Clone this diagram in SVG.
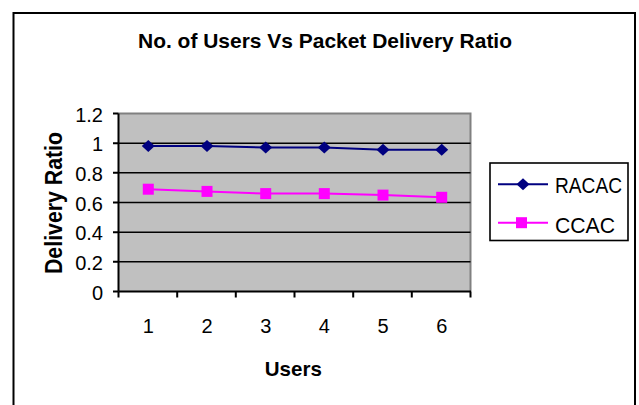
<svg xmlns="http://www.w3.org/2000/svg" width="639" height="405" viewBox="0 0 639 405">
<defs>
<style>
.t{font-family:"Liberation Sans",Arial,sans-serif;fill:#000}
.b{font-weight:bold}
.grid{stroke:#000;stroke-width:1.6;fill:none}
.ax{stroke:#000;stroke-width:2;fill:none}
.s1{stroke:#000080;stroke-width:2;fill:none}
.s2{stroke:#FF00FF;stroke-width:2;fill:none}
</style>
<path id="dia" d="M0,-6 L6.5,0 L0,6 L-6.5,0 Z" fill="#000080"/>
<rect id="sq" x="-5.5" y="-5.5" width="11" height="11" fill="#FF00FF"/>
</defs>
<rect x="0" y="0" width="639" height="405" fill="#fff"/>
<g id="frame">
<rect x="13.5" y="13" width="621.5" height="400" fill="#fff" stroke="#000" stroke-width="2"/>
</g>
<g id="title">
<text class="t b" x="325" y="48" font-size="21" text-anchor="middle" textLength="374" lengthAdjust="spacingAndGlyphs">No. of Users Vs Packet Delivery Ratio</text>
</g>
<g id="plot">
<rect x="118.5" y="113.5" width="352" height="178" fill="#C0C0C0"/>
<path d="M118.5,113.5 H470.5 V291.5" stroke="#808080" stroke-width="2" fill="none"/>
<path class="grid" d="M118.5,143.2 H470.5 M118.5,172.8 H470.5 M118.5,202.5 H470.5 M118.5,232.2 H470.5 M118.5,261.8 H470.5"/>
</g>
<g id="axes">
<path class="ax" d="M118.5,113.5 V291.5 M118.5,291.5 H471"/>
<path class="ax" d="M113,113.5 H118.5 M113,143.2 H118.5 M113,172.8 H118.5 M113,202.5 H118.5 M113,232.2 H118.5 M113,261.8 H118.5 M113,291.5 H118.5"/>
<path class="ax" d="M118.5,291.5 V297.5 M177.2,291.5 V297.5 M235.8,291.5 V297.5 M294.5,291.5 V297.5 M353.2,291.5 V297.5 M411.8,291.5 V297.5 M470.5,291.5 V297.5"/>
<g class="t" font-size="20" text-anchor="end">
<text x="103" y="121.5">1.2</text>
<text x="103" y="151">1</text>
<text x="103" y="181">0.8</text>
<text x="103" y="210.5">0.6</text>
<text x="103" y="240">0.4</text>
<text x="103" y="270">0.2</text>
<text x="103" y="299.5">0</text>
</g>
<g class="t" font-size="20" text-anchor="middle">
<text x="148.3" y="333">1</text>
<text x="207" y="333">2</text>
<text x="265.7" y="333">3</text>
<text x="324.3" y="333">4</text>
<text x="383" y="333">5</text>
<text x="441.7" y="333">6</text>
</g>
<text class="t b" x="293.3" y="376" font-size="21" text-anchor="middle" textLength="57" lengthAdjust="spacingAndGlyphs">Users</text>
<text class="t b" transform="translate(62,203) rotate(-90)" x="0" y="0" font-size="24" text-anchor="middle" textLength="142" lengthAdjust="spacingAndGlyphs">Delivery Ratio</text>
</g>
<g id="connectors">
<polyline class="s1" points="148.3,146.1 207,146.1 265.7,147.6 324.3,147.6 383,149.8 441.7,149.8"/>
<polyline class="s2" points="148.3,189.2 207,191.4 265.7,193.6 324.3,193.6 383,195.1 441.7,197.3"/>
</g>
<g id="series-RACAC">
<use href="#dia" x="148.3" y="146.1"/>
<use href="#dia" x="207" y="146.1"/>
<use href="#dia" x="265.7" y="147.6"/>
<use href="#dia" x="324.3" y="147.6"/>
<use href="#dia" x="383" y="149.8"/>
<use href="#dia" x="441.7" y="149.8"/>
</g>
<g id="series-CCAC">
<use href="#sq" x="148.3" y="189.2"/>
<use href="#sq" x="207" y="191.4"/>
<use href="#sq" x="265.7" y="193.6"/>
<use href="#sq" x="324.3" y="193.6"/>
<use href="#sq" x="383" y="195.1"/>
<use href="#sq" x="441.7" y="197.3"/>
</g>
<g id="legend">
<rect x="490" y="163" width="138" height="77.5" fill="#fff" stroke="#000" stroke-width="1.6"/>
<line class="s1" x1="498" y1="184.3" x2="548" y2="184.3"/>
<use href="#dia" x="523" y="184.3"/>
<text class="t" x="555" y="192.7" font-size="22" textLength="67" lengthAdjust="spacingAndGlyphs">RACAC</text>
<line class="s2" x1="498" y1="222.7" x2="548" y2="222.7"/>
<use href="#sq" x="521.5" y="222.7"/>
<text class="t" x="555" y="233" font-size="22" textLength="60" lengthAdjust="spacingAndGlyphs">CCAC</text>
</g>
</svg>
